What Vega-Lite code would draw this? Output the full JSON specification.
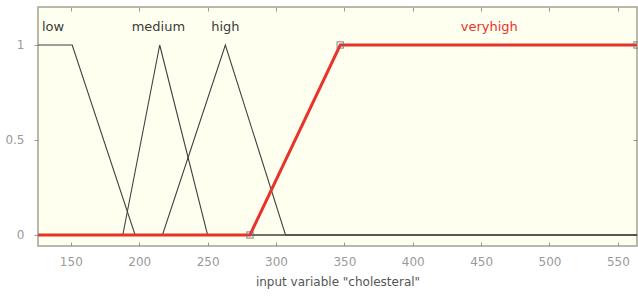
{
  "$schema": "https://vega.github.io/schema/vega-lite/v6.json",
  "autosize": "none",
  "width": 599,
  "height": 239,
  "padding": {"left": 38, "top": 7, "right": 1, "bottom": 54},
  "background": "white",
  "config": {
    "view": {"fill": "#fffff0", "stroke": "#a3a394", "strokeWidth": 1.5},
    "font": "DejaVu Sans",
    "axis": {"grid": false, "domain": false, "tickColor": "#9a9a8a", "labelColor": "#9a9a9a", "labelFontSize": 12, "titleColor": "#555555", "titleFontSize": 12, "titleFontWeight": "normal"}
  },
  "resolve": {"axis": {"x": "independent", "y": "independent"}},
  "datasets": {
    "mf": [
      {"mf": "low", "x": 126, "y": 1},
      {"mf": "low", "x": 151, "y": 1},
      {"mf": "low", "x": 197, "y": 0},
      {"mf": "low", "x": 564, "y": 0},
      {"mf": "medium", "x": 126, "y": 0},
      {"mf": "medium", "x": 188, "y": 0},
      {"mf": "medium", "x": 215, "y": 1},
      {"mf": "medium", "x": 250, "y": 0},
      {"mf": "medium", "x": 564, "y": 0},
      {"mf": "high", "x": 126, "y": 0},
      {"mf": "high", "x": 217, "y": 0},
      {"mf": "high", "x": 263, "y": 1},
      {"mf": "high", "x": 307, "y": 0},
      {"mf": "high", "x": 564, "y": 0},
      {"mf": "veryhigh", "x": 126, "y": 0},
      {"mf": "veryhigh", "x": 281, "y": 0},
      {"mf": "veryhigh", "x": 347, "y": 1},
      {"mf": "veryhigh", "x": 564, "y": 1}
    ],
    "marks": [
      {"x": 281, "y": 0},
      {"x": 347, "y": 1},
      {"x": 564, "y": 1}
    ],
    "labels": [
      {"mf": "low", "x": 137, "y": 1.095},
      {"mf": "medium", "x": 214, "y": 1.095},
      {"mf": "high", "x": 263, "y": 1.095},
      {"mf": "veryhigh", "x": 456, "y": 1.095}
    ]
  },
  "layer": [
    {
      "data": {"name": "mf"},
      "transform": [{"filter": "datum.mf != 'veryhigh'"}],
      "mark": {"type": "line", "color": "#404040", "strokeWidth": 1.1},
      "encoding": {
        "x": {"field": "x", "type": "quantitative", "scale": {"domain": [126, 564], "nice": false, "zero": false},
          "axis": {"values": [150, 200, 250, 300, 350, 400, 450, 500, 550], "tickSize": -4, "labelPadding": 14, "title": "input variable \"cholesteral\"", "titlePadding": 9}},
        "y": {"field": "y", "type": "quantitative", "scale": {"domain": [-0.058, 1.2], "nice": false, "zero": false},
          "axis": {"values": [0, 0.5, 1], "format": "~g", "tickSize": 4, "labelPadding": 10, "title": null}},
        "detail": {"field": "mf"}
      }
    },
    {
      "data": {"name": "mf"},
      "transform": [{"filter": "datum.mf == 'veryhigh'"}],
      "mark": {"type": "line", "color": "#e8332b", "strokeWidth": 3},
      "encoding": {
        "x": {"field": "x", "type": "quantitative",
          "axis": {"orient": "top", "values": [150, 200, 250, 300, 350, 400, 450, 500, 550], "tickSize": -4, "labels": false, "title": null}},
        "y": {"field": "y", "type": "quantitative",
          "axis": {"orient": "right", "values": [0, 0.5, 1], "tickSize": -4, "labels": false, "title": null}}
      }
    },
    {
      "data": {"name": "marks"},
      "mark": {"type": "point", "shape": "square", "filled": false, "stroke": "#707070", "strokeWidth": 1.2, "size": 40},
      "encoding": {
        "x": {"field": "x", "type": "quantitative", "axis": null},
        "y": {"field": "y", "type": "quantitative", "axis": null}
      }
    },
    {
      "data": {"name": "labels"},
      "mark": {"type": "text", "fontSize": 13, "baseline": "middle", "align": "center"},
      "encoding": {
        "x": {"field": "x", "type": "quantitative", "axis": null},
        "y": {"field": "y", "type": "quantitative", "axis": null},
        "text": {"field": "mf"},
        "color": {"field": "mf", "type": "nominal", "legend": null,
          "scale": {"domain": ["low", "medium", "high", "veryhigh"], "range": ["#3a3a3a", "#3a3a3a", "#3a3a3a", "#e8332b"]}}
      }
    }
  ]
}
